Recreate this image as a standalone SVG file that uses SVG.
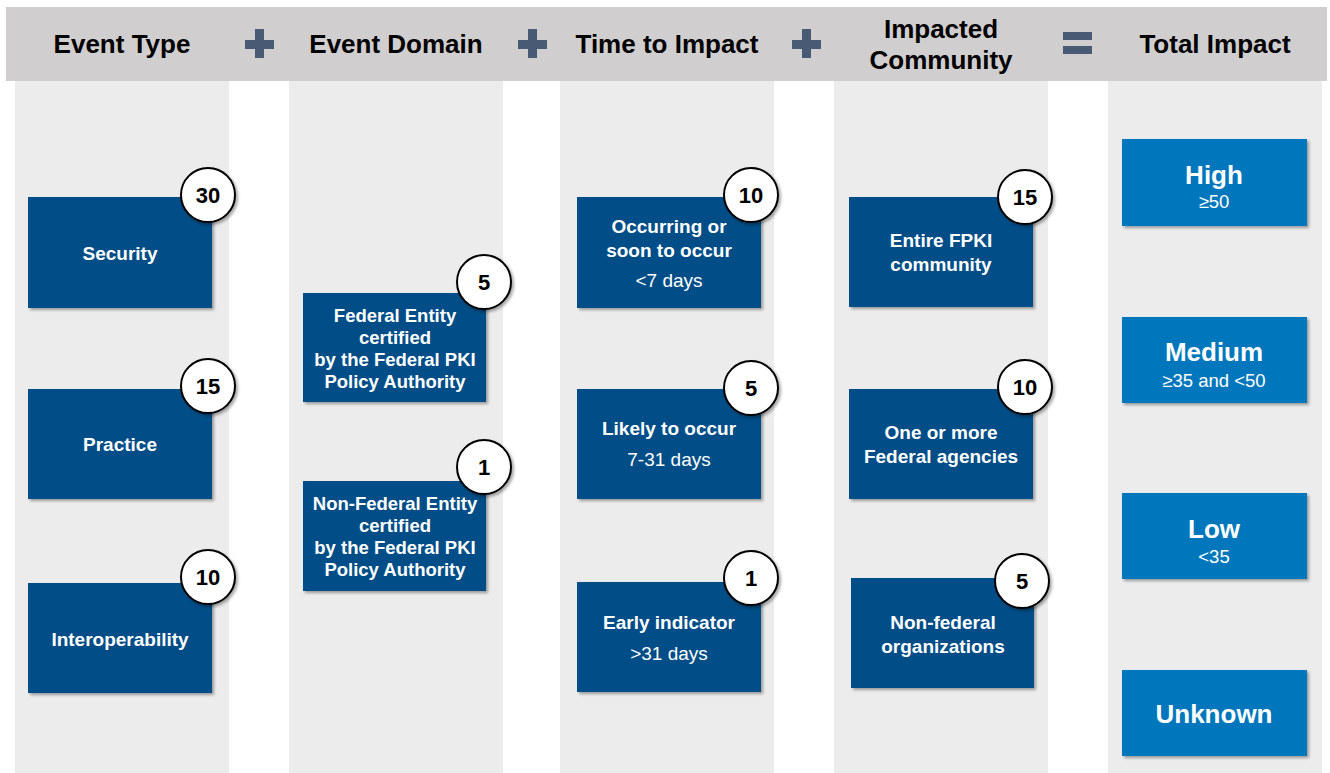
<svg xmlns="http://www.w3.org/2000/svg" width="1330" height="773" viewBox="0 0 1330 773">
  <defs>
    <filter id="shadow" x="-10%" y="-10%" width="125%" height="130%">
      <feDropShadow dx="2" dy="2" stdDeviation="1.5" flood-color="#000" flood-opacity="0.35"/>
    </filter>
    <style>
      .col { fill: #ececec; }
      .hdr { font-family: "Liberation Sans", Arial, sans-serif; font-weight: bold; font-size: 26px; fill: #000; text-anchor: middle; }
      .op { fill: #485a74; }
      .box { fill: #004e87; filter: url(#shadow); }
      .res { fill: #0677bd; filter: url(#shadow); }
      .lbl { font-family: "Liberation Sans", Arial, sans-serif; font-weight: bold; font-size: 19px; fill: #fff; text-anchor: middle; }
      .lbl2 { font-family: "Liberation Sans", Arial, sans-serif; font-weight: bold; font-size: 18.5px; fill: #fff; text-anchor: middle; }
      .sub { font-family: "Liberation Sans", Arial, sans-serif; font-size: 19px; fill: #fff; text-anchor: middle; }
      .big { font-family: "Liberation Sans", Arial, sans-serif; font-weight: bold; font-size: 26px; fill: #fff; text-anchor: middle; }
      .small { font-family: "Liberation Sans", Arial, sans-serif; font-size: 18.5px; fill: #fff; text-anchor: middle; }
      .badge { fill: #fff; stroke: #000; stroke-width: 2; filter: url(#shadow); }
      .num { font-family: "Liberation Sans", Arial, sans-serif; font-weight: bold; font-size: 22px; fill: #000; text-anchor: middle; }
    </style>
  </defs>

  <rect width="1330" height="773" fill="#fff"/>

  <!-- column backgrounds -->
  <g id="columns">
    <rect class="col" x="15" y="80" width="214" height="693"/>
    <rect class="col" x="289" y="80" width="214" height="693"/>
    <rect class="col" x="560" y="80" width="214" height="693"/>
    <rect class="col" x="834" y="80" width="214" height="693"/>
    <rect class="col" x="1108" y="80" width="214" height="693"/>
  </g>

  <!-- header band -->
  <g id="header">
    <rect x="6" y="7" width="1321" height="74" fill="#d0cecf"/>
    <text class="hdr" x="122" y="53">Event Type</text>
    <text class="hdr" x="396" y="53">Event Domain</text>
    <text class="hdr" x="667" y="53">Time to Impact</text>
    <text class="hdr" x="941" y="38">Impacted</text>
    <text class="hdr" x="941" y="69">Community</text>
    <text class="hdr" x="1215" y="53">Total Impact</text>
  </g>

  <!-- operators -->
  <g id="operators">
    <rect class="op" x="245" y="40" width="29" height="9"/>
    <rect class="op" x="255" y="29" width="9" height="29"/>
    <rect class="op" x="518" y="40" width="29" height="9"/>
    <rect class="op" x="528" y="29" width="9" height="29"/>
    <rect class="op" x="792" y="40" width="29" height="9"/>
    <rect class="op" x="802" y="29" width="9" height="29"/>
    <rect class="op" x="1063" y="32" width="29" height="8"/>
    <rect class="op" x="1063" y="46" width="29" height="8"/>
  </g>

  <!-- Event Type -->
  <g id="security">
    <rect class="box" x="28" y="197" width="184" height="111"/>
    <text class="lbl" x="120" y="260">Security</text>
    <circle class="badge" cx="208" cy="195" r="27"/>
    <text class="num" x="208" y="203">30</text>
  </g>
  <g id="practice">
    <rect class="box" x="28" y="389" width="184" height="110"/>
    <text class="lbl" x="120" y="451">Practice</text>
    <circle class="badge" cx="208" cy="386" r="27"/>
    <text class="num" x="208" y="394">15</text>
  </g>
  <g id="interoperability">
    <rect class="box" x="28" y="583" width="184" height="110"/>
    <text class="lbl" x="120" y="646">Interoperability</text>
    <circle class="badge" cx="208" cy="577" r="27"/>
    <text class="num" x="208" y="585">10</text>
  </g>

  <!-- Event Domain -->
  <g id="federal-entity">
    <rect class="box" x="303" y="293" width="183" height="109"/>
    <text class="lbl2" x="395" y="322">Federal Entity</text>
    <text class="lbl2" x="395" y="344">certified</text>
    <text class="lbl2" x="395" y="366">by the Federal PKI</text>
    <text class="lbl2" x="395" y="388">Policy Authority</text>
    <circle class="badge" cx="484" cy="282" r="27"/>
    <text class="num" x="484" y="290">5</text>
  </g>
  <g id="non-federal-entity">
    <rect class="box" x="303" y="481" width="183" height="110"/>
    <text class="lbl2" x="395" y="510">Non-Federal Entity</text>
    <text class="lbl2" x="395" y="532">certified</text>
    <text class="lbl2" x="395" y="554">by the Federal PKI</text>
    <text class="lbl2" x="395" y="576">Policy Authority</text>
    <circle class="badge" cx="484" cy="467" r="27"/>
    <text class="num" x="484" y="475">1</text>
  </g>

  <!-- Time to Impact -->
  <g id="occurring">
    <rect class="box" x="577" y="197" width="184" height="111"/>
    <text class="lbl" x="669" y="233">Occurring or</text>
    <text class="lbl" x="669" y="257">soon to occur</text>
    <text class="sub" x="669" y="287">&lt;7 days</text>
    <circle class="badge" cx="751" cy="195" r="27"/>
    <text class="num" x="751" y="203">10</text>
  </g>
  <g id="likely">
    <rect class="box" x="577" y="389" width="184" height="110"/>
    <text class="lbl" x="669" y="435">Likely to occur</text>
    <text class="sub" x="669" y="466">7-31 days</text>
    <circle class="badge" cx="751" cy="388" r="27"/>
    <text class="num" x="751" y="396">5</text>
  </g>
  <g id="early">
    <rect class="box" x="577" y="582" width="184" height="110"/>
    <text class="lbl" x="669" y="629">Early indicator</text>
    <text class="sub" x="669" y="660">&gt;31 days</text>
    <circle class="badge" cx="751" cy="578" r="27"/>
    <text class="num" x="751" y="586">1</text>
  </g>

  <!-- Impacted Community -->
  <g id="entire-fpki">
    <rect class="box" x="849" y="197" width="184" height="110"/>
    <text class="lbl" x="941" y="247">Entire FPKI</text>
    <text class="lbl" x="941" y="271">community</text>
    <circle class="badge" cx="1025" cy="197" r="27"/>
    <text class="num" x="1025" y="205">15</text>
  </g>
  <g id="federal-agencies">
    <rect class="box" x="849" y="389" width="184" height="110"/>
    <text class="lbl" x="941" y="439">One or more</text>
    <text class="lbl" x="941" y="463">Federal agencies</text>
    <circle class="badge" cx="1025" cy="387" r="27"/>
    <text class="num" x="1025" y="395">10</text>
  </g>
  <g id="non-federal-orgs">
    <rect class="box" x="851" y="578" width="183" height="110"/>
    <text class="lbl" x="943" y="629">Non-federal</text>
    <text class="lbl" x="943" y="653">organizations</text>
    <circle class="badge" cx="1022" cy="581" r="27"/>
    <text class="num" x="1022" y="589">5</text>
  </g>

  <!-- Total Impact -->
  <g id="high">
    <rect class="res" x="1122" y="139" width="185" height="87"/>
    <text class="big" x="1214" y="184">High</text>
    <text class="small" x="1214" y="208">≥50</text>
  </g>
  <g id="medium">
    <rect class="res" x="1122" y="317" width="185" height="86"/>
    <text class="big" x="1214" y="361">Medium</text>
    <text class="small" x="1214" y="387">≥35 and &lt;50</text>
  </g>
  <g id="low">
    <rect class="res" x="1122" y="493" width="185" height="86"/>
    <text class="big" x="1214" y="538">Low</text>
    <text class="small" x="1214" y="563">&lt;35</text>
  </g>
  <g id="unknown">
    <rect class="res" x="1122" y="670" width="185" height="86"/>
    <text class="big" x="1214" y="723">Unknown</text>
  </g>

  <g id="connectors"/>
</svg>
